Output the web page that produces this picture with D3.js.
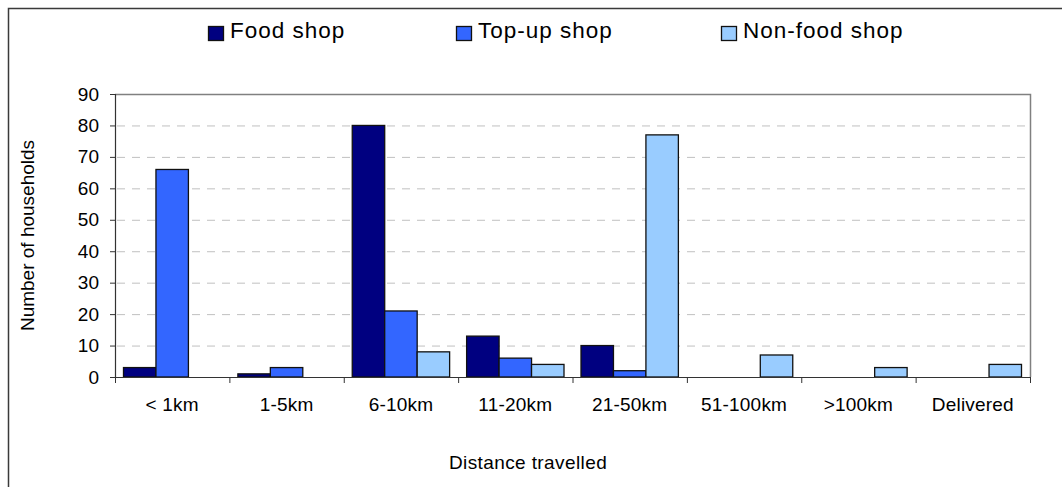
<!DOCTYPE html>
<html>
<head>
<meta charset="utf-8">
<script src="https://cdn.jsdelivr.net/npm/d3@7/dist/d3.min.js"></script>
<style>
  html, body { margin: 0; padding: 0; background: #fff; }
  svg { display: block; font-family: "Liberation Sans", Arial, sans-serif; }
</style>
</head>
<body>
<svg id="chart" width="1062" height="487"></svg>
<script>
// Distance categories along the x axis
const categories = ["< 1km", "1-5km", "6-10km", "11-20km", "21-50km", "51-100km", ">100km", "Delivered"];

// Number of households per category, one array per shop type
const foodShop    = [3, 1, 80, 13, 10, 0, 0, 0];
const topUpShop   = [66, 3, 21, 6, 2, 0, 0, 0];
const nonFoodShop = [0, 0, 8, 4, 77, 7, 3, 4];

const seriesNames  = ["Food shop", "Top-up shop", "Non-food shop"];
const seriesColors = ["#000080", "#3366FF", "#99CCFF"];
const yTicks = [0, 10, 20, 30, 40, 50, 60, 70, 80, 90];

const seriesValues = [foodShop, topUpShop, nonFoodShop];

const svg = d3.select("#chart");

// Outer chart frame (extends past the window on right and bottom)
svg.append("rect")
  .attr("x", 8.5).attr("y", 8.5)
  .attr("width", 1100).attr("height", 600)
  .attr("fill", "none").attr("stroke", "#3a3a3a").attr("stroke-width", 1.5);

const plot = { left: 115, right: 1030, top: 94, bottom: 377 };

const x0 = d3.scaleBand().domain(categories).range([plot.left, plot.right]).padding(0);
const groupGap = 8.5;
const x1 = d3.scaleBand().domain(seriesNames)
  .range([groupGap, x0.bandwidth() - groupGap]).padding(0);
const y = d3.scaleLinear().domain([0, 90]).range([plot.bottom, plot.top]);

// Dashed horizontal gridlines
svg.append("g")
  .selectAll("line")
  .data(yTicks.filter(t => t > 0 && t < 90))
  .join("line")
  .attr("x1", plot.left + 2).attr("x2", plot.right)
  .attr("y1", d => y(d) + 0.5).attr("y2", d => y(d) + 0.5)
  .attr("stroke", "#c0c0c0").attr("stroke-width", 1)
  .attr("stroke-dasharray", "8,7");

// Plot area border: top and right
svg.append("path")
  .attr("d", `M${plot.left},${plot.top + 0.5}H${plot.right + 0.5}V${plot.bottom}`)
  .attr("fill", "none").attr("stroke", "#808080").attr("stroke-width", 1.5);

// Bars
const rows = categories.map((c, i) => ({ cat: c, vals: seriesValues.map((s, k) => ({ name: seriesNames[k], color: seriesColors[k], v: s[i] })) }));

svg.append("g")
  .selectAll("g")
  .data(rows)
  .join("g")
  .attr("transform", d => `translate(${x0(d.cat)},0)`)
  .selectAll("rect")
  .data(d => d.vals.filter(e => e.v > 0))
  .join("rect")
  .attr("x", d => x1(d.name))
  .attr("y", d => y(d.v))
  .attr("width", x1.bandwidth())
  .attr("height", d => y(0) - y(d.v))
  .attr("fill", d => d.color)
  .attr("stroke", "#111").attr("stroke-width", 1.3);

// Y axis
const yAxis = d3.axisLeft(y).tickValues(yTicks).tickSize(5).tickPadding(11);
const gy = svg.append("g").attr("transform", `translate(${plot.left},0)`).call(yAxis);
gy.select(".domain").attr("stroke", "#333").attr("stroke-width", 1.2);
gy.selectAll(".tick line").attr("stroke", "#333");
gy.selectAll(".tick text").attr("font-size", 19).attr("fill", "#000")
  .attr("font-family", "Liberation Sans, Arial, sans-serif");

// X axis with ticks at category boundaries
const gx = svg.append("g").attr("transform", `translate(0,${plot.bottom})`);
gx.append("line").attr("x1", plot.left).attr("x2", plot.right + 0.5)
  .attr("y1", 0.5).attr("y2", 0.5).attr("stroke", "#333").attr("stroke-width", 1.2);
const bounds = categories.map(c => x0(c)).concat([plot.right]);
gx.selectAll("line.tk").data(bounds).join("line").attr("class", "tk")
  .attr("x1", d => d + 0.5).attr("x2", d => d + 0.5)
  .attr("y1", 0).attr("y2", 6).attr("stroke", "#333");
gx.selectAll("text").data(categories).join("text")
  .attr("x", d => x0(d) + x0.bandwidth() / 2)
  .attr("y", 34)
  .attr("text-anchor", "middle")
  .attr("font-size", 19)
  .attr("letter-spacing", 0.2)
  .text(d => d);

// Axis titles
svg.append("text")
  .attr("x", 528).attr("y", 469)
  .attr("text-anchor", "middle").attr("font-size", 19)
  .attr("letter-spacing", 0.4)
  .text("Distance travelled");

svg.append("text")
  .attr("transform", `translate(34,${(plot.top + plot.bottom) / 2}) rotate(-90)`)
  .attr("text-anchor", "middle").attr("font-size", 19)
  .text("Number of households");

// Legend
const legendX = [208, 456, 721];
const legend = svg.append("g").selectAll("g")
  .data(seriesNames.map((n, k) => ({ name: n, color: seriesColors[k], x: legendX[k] })))
  .join("g")
  .attr("transform", d => `translate(${d.x},0)`);
legend.append("rect")
  .attr("x", 0.5).attr("y", 26.5).attr("width", 15).attr("height", 14)
  .attr("fill", d => d.color).attr("stroke", "#111").attr("stroke-width", 1.3);
legend.append("text")
  .attr("x", 22).attr("y", 38)
  .attr("font-size", 22.5)
  .attr("letter-spacing", 1)
  .text(d => d.name);
</script>
</body>
</html>
